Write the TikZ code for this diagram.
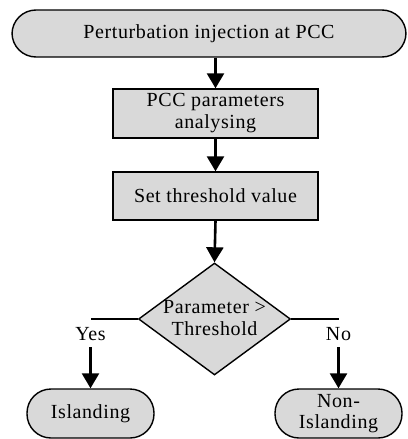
\documentclass[tikz,border=0pt]{standalone}
\usepackage{fontspec}
\setmainfont[LetterSpace=3]{Liberation Serif}
\usetikzlibrary{arrows.meta,shapes.geometric}
\definecolor{boxfill}{RGB}{217,217,217}
\begin{document}
\begin{tikzpicture}[x=1pt,y=-1pt,
  font=\fontsize{20}{22}\selectfont,
  term/.style={draw, fill=boxfill, line width=1.4pt, rounded corners=24pt, inner sep=0pt, align=center},
  procbox/.style={draw, fill=boxfill, line width=1.4pt, inner sep=0pt, align=center, minimum width=205pt},
  decision/.style={draw, fill=boxfill, line width=1.4pt, diamond, inner sep=0pt, minimum width=152pt, minimum height=112pt, aspect=1.36},
  flow/.style={line width=2.6pt, -{Triangle[width=17pt,length=15pt]}},
  branch/.style={line width=1.6pt},
  lbl/.style={inner sep=0pt, align=center}]
\useasboundingbox (0,0) rectangle (407,439);
% start terminator
\node[term, minimum width=394pt, minimum height=47pt] (start) at (209,33.5) {Perturbation injection at PCC};
% processing steps
\node[procbox, minimum height=49pt] (analyse) at (215.5,113.5) {PCC parameters\\analysing};
\node[procbox, minimum height=48pt] (thresh) at (215.5,196) {Set threshold value};
% decision
\node[decision] (dec) at (214.5,319) {};
\node[lbl] (dectext) at (214.5,318) {Parameter >\\Threshold};
% outcomes
\node[term, minimum width=127pt, minimum height=49pt] (isl) at (90.5,413.5) {Islanding};
\node[term, minimum width=127pt, minimum height=49pt, font=\fontsize{20}{21}\selectfont] (nonisl) at (338.5,413.5) {Non-\\Islanding};
% branch labels
\node[lbl] (yes) at (90.5,334) {Yes};
\node[lbl] (no) at (338.5,334) {No};
\coordinate (yescorner) at (90.5,319);
\coordinate (nocorner) at (338.5,319);
% connectors
\draw[flow] (analyse.north |- start.south) -- (analyse.north);
\draw[flow] (analyse.south) -- (thresh.north);
\draw[flow] (thresh.south) -- (dec.north);
\draw[branch] (dec.west) -- (yescorner);
\draw[branch] (dec.east) -- (nocorner);
\draw[flow] (90.5,347) coordinate (yesfoot) -- (isl.north);
\draw[flow] (338.5,347) coordinate (nofoot) -- (nonisl.north);
\end{tikzpicture}
\end{document}
